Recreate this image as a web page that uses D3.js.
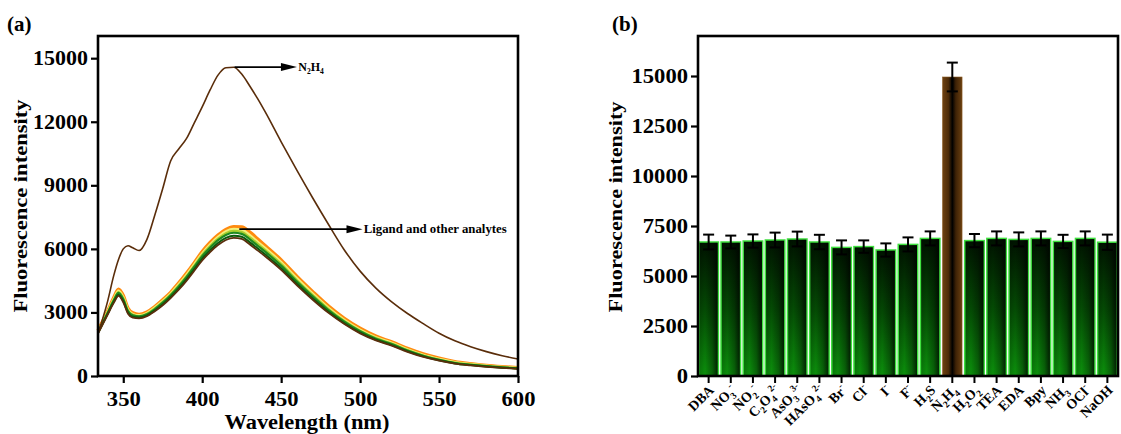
<!DOCTYPE html>
<html>
<head>
<meta charset="utf-8">
<script src="https://cdn.jsdelivr.net/npm/d3@7"></script>
<style>
  html, body { margin: 0; padding: 0; background: #fff; }
  svg { display: block; }
  text { font-family: "Liberation Serif", "Times New Roman", serif; font-weight: bold; fill: #000; }
</style>
</head>
<body>
<svg id="chart" width="1121" height="434"></svg>
<script>
// ---------- Panel (a): emission spectra ----------
const wavelengths = [334,340,344,347,350,353,356,360,365,370,375,380,385,390,395,400,405,410,415,420,425,430,435,440,450,460,470,480,490,500,510,520,530,540,550,560,570,580,590,600];

const n2h4Spectrum = [2000,3500,4750,5500,6000,6150,6050,5920,6450,7600,8850,10150,10700,11200,11950,12700,13500,14200,14550,14570,14250,13700,13100,12450,11050,9700,8400,7150,5950,4950,4150,3500,2950,2470,2020,1660,1380,1150,960,800];

const spectrumOrange = [2150,3050,3700,4100,3800,3200,2980,2900,3020,3280,3600,3950,4380,4850,5350,5870,6300,6650,6920,7050,7030,6800,6480,6150,5480,4700,3980,3300,2720,2250,1880,1610,1300,1040,840,680,580,500,440,390];
const spectrumYellow = [2100,3000,3640,4020,3720,3130,2920,2860,2970,3230,3540,3890,4310,4770,5270,5780,6200,6560,6820,6930,6900,6650,6340,6030,5370,4600,3880,3210,2640,2180,1820,1560,1250,990,800,650,560,485,425,378];
const spectrumLime = [2080,2980,3600,3960,3670,3090,2890,2830,2940,3190,3500,3850,4260,4710,5210,5720,6130,6480,6740,6850,6800,6550,6250,5940,5290,4520,3820,3160,2600,2140,1790,1530,1225,970,780,630,545,472,415,370];
const spectrumGreen = [2060,2960,3570,3920,3620,3060,2860,2810,2910,3160,3460,3810,4210,4660,5160,5660,6060,6410,6660,6760,6710,6460,6160,5860,5210,4460,3760,3110,2560,2110,1760,1505,1205,955,765,615,532,462,406,361];
const spectrumDarkGreen = [2030,2920,3500,3840,3540,2990,2800,2760,2860,3100,3390,3730,4120,4560,5050,5540,5940,6280,6520,6620,6570,6320,6030,5730,5090,4350,3660,3030,2490,2050,1710,1460,1170,925,740,595,515,448,394,350];
const spectrumBrown = [2000,2880,3450,3780,3480,2940,2750,2720,2820,3060,3340,3680,4060,4490,4970,5450,5850,6180,6420,6520,6470,6220,5930,5640,5010,4280,3600,2980,2450,2010,1680,1430,1140,900,720,580,500,435,383,340];

const xTicksA = [350,400,450,500,550,600];
const yTicksA = [0,3000,6000,9000,12000,15000];

// ---------- Panel (b): bar chart ----------
const analytes = ["DBA","NO_3^-","NO_2^-","C_2O_4^2-","AsO_3^3-","HAsO_4^2-","Br^-","Cl^-","I^-","F^-","H_2S","N_2H_4","H_2O_2","TEA","EDA","Bpy","NH_3","OCl^-","NaOH"];
const intensities = [6700,6700,6750,6800,6850,6700,6430,6470,6300,6580,6880,14950,6770,6880,6830,6880,6730,6880,6690];
const errors = [370,320,330,370,370,360,350,310,330,350,350,720,330,350,350,350,330,350,380];
const yTicksB = [0,2500,5000,7500,10000,12500,15000];

const svg = d3.select("#chart");
svg.append("rect").attr("width",1121).attr("height",434).attr("fill","#fff");

const defs = svg.append("defs");

// scales
const xA = d3.scaleLinear().domain([334,600]).range([98,518]);
const yA = d3.scaleLinear().domain([0,16000]).range([376,37]);
const xB = d3.scaleBand().domain(analytes).range([698,1118]).paddingInner(0.12).paddingOuter(0.04);
const yB = d3.scaleLinear().domain([0,17000]).range([376,36]);

function styleTicks(g, digitW) {
  g.select(".domain").remove();
  g.selectAll(".tick line").attr("stroke","#000").attr("stroke-width",2.2);
  g.selectAll(".tick text")
    .attr("font-size",20)
    .attr("fill","#000")
    .attr("font-family","Liberation Serif, Times New Roman, serif")
    .attr("font-weight","bold")
    .attr("lengthAdjust","spacingAndGlyphs")
    .attr("textLength", function(){ return this.textContent.length * digitW; });
}

// ===== Panel (a) =====
const gA = svg.append("g");

const line = d3.line()
  .x((d,i) => xA(wavelengths[i]))
  .y(d => yA(d))
  .curve(d3.curveMonotoneX);

const bundle = [
  {values: spectrumOrange, color: "#ff8a10", w: 3.4},
  {values: spectrumYellow, color: "#f3f07a", w: 2.6},
  {values: spectrumLime, color: "#a9cf2e", w: 2.2},
  {values: spectrumGreen, color: "#1f8a1f", w: 2.2},
  {values: spectrumDarkGreen, color: "#0b5a0b", w: 2.0},
  {values: spectrumBrown, color: "#5a2e0c", w: 1.8}
];
gA.selectAll("path.spec").data(bundle).enter().append("path")
  .attr("class","spec")
  .attr("d", d => line(d.values))
  .attr("fill","none")
  .attr("stroke", d => d.color)
  .attr("stroke-width", d => d.w)
  .attr("stroke-linejoin","round");

gA.append("path")
  .attr("d", line(n2h4Spectrum))
  .attr("fill","none")
  .attr("stroke","#5a2d0a")
  .attr("stroke-width",1.6);

// annotation arrows
function arrow(g, x1, x2, y) {
  g.append("line").attr("x1",x1).attr("x2",x2-12).attr("y1",y).attr("y2",y)
    .attr("stroke","#000").attr("stroke-width",1.6);
  g.append("path")
    .attr("d", `M${x2},${y} L${x2-16},${y-4} L${x2-16},${y+4} Z`)
    .attr("fill","#000");
}
const yN = yA(14580);
arrow(gA, xA(420.5), xA(460), yN);
const tN = gA.append("text").attr("x", xA(460.8)).attr("y", yN+4).attr("font-size",12);
tN.append("tspan").text("N");
tN.append("tspan").attr("font-size",7.5).attr("dy",3).text("2");
tN.append("tspan").attr("dy",-3).text("H");
tN.append("tspan").attr("font-size",7.5).attr("dy",3).text("4");

const yL = yA(6930);
arrow(gA, xA(423.5), xA(501.5), yL);
gA.append("text").attr("x", xA(502.3)).attr("y", yL+4).attr("font-size",12.5)
  .attr("textLength",143).attr("lengthAdjust","spacingAndGlyphs")
  .text("Ligand and other analytes");

// axes
gA.append("g").attr("transform","translate(98,0)")
  .call(d3.axisLeft(yA).tickValues(yTicksA).tickSize(7).tickPadding(3).tickFormat(d3.format("d")))
  .call(g => styleTicks(g, 11));
gA.append("g").attr("transform","translate(0,376)")
  .call(d3.axisBottom(xA).tickValues(xTicksA).tickSize(7).tickPadding(9).tickFormat(d3.format("d")))
  .call(g => styleTicks(g, 11.3));

gA.append("rect").attr("x",98).attr("y",36).attr("width",420).attr("height",340)
  .attr("fill","none").attr("stroke","#000").attr("stroke-width",2.6);

gA.append("text").attr("transform","translate(27,206) rotate(-90)")
  .attr("text-anchor","middle").attr("font-size",19)
  .attr("textLength",213).attr("lengthAdjust","spacingAndGlyphs")
  .text("Fluorescence intensity");
gA.append("text").attr("x",307).attr("y",429)
  .attr("text-anchor","middle").attr("font-size",20)
  .attr("textLength",165).attr("lengthAdjust","spacingAndGlyphs")
  .text("Wavelength (nm)");
gA.append("text").attr("x",7).attr("y",31).attr("font-size",21).text("(a)");

// ===== Panel (b) =====
const gv = defs.append("linearGradient").attr("id","barV").attr("x1",0).attr("y1",0).attr("x2",0).attr("y2",1);
gv.append("stop").attr("offset","0%").attr("stop-color","#001200");
gv.append("stop").attr("offset","50%").attr("stop-color","#044a04");
gv.append("stop").attr("offset","100%").attr("stop-color","#0c900c");
const gh = defs.append("linearGradient").attr("id","barH").attr("x1",0).attr("y1",0).attr("x2",1).attr("y2",0);
gh.append("stop").attr("offset","0%").attr("stop-color","#000").attr("stop-opacity",0.15);
gh.append("stop").attr("offset","30%").attr("stop-color","#000").attr("stop-opacity",0);
gh.append("stop").attr("offset","70%").attr("stop-color","#000").attr("stop-opacity",0.3);
gh.append("stop").attr("offset","100%").attr("stop-color","#000").attr("stop-opacity",0.75);
const gb = defs.append("linearGradient").attr("id","barBrown").attr("x1",0).attr("y1",0).attr("x2",1).attr("y2",0);
gb.append("stop").attr("offset","0%").attr("stop-color","#6e4212");
gb.append("stop").attr("offset","30%").attr("stop-color","#4e2c08");
gb.append("stop").attr("offset","50%").attr("stop-color","#000");
gb.append("stop").attr("offset","68%").attr("stop-color","#3e2206");
gb.append("stop").attr("offset","100%").attr("stop-color","#6a3f10");

const gB = svg.append("g");
const barData = analytes.map((a,i) => ({a, v: intensities[i], e: errors[i]}));
const bw = xB.bandwidth();

const bars = gB.selectAll("g.bar").data(barData).enter().append("g").attr("class","bar");
bars.append("rect")
  .attr("x", d => xB(d.a)).attr("y", d => yB(d.v))
  .attr("width", bw).attr("height", d => yB(0) - yB(d.v))
  .attr("fill", d => d.a === "N_2H_4" ? "url(#barBrown)" : "url(#barV)")
  .attr("stroke", d => d.a === "N_2H_4" ? "#8a5a22" : "#3ee03e")
  .attr("stroke-width", d => d.a === "N_2H_4" ? 0.6 : 1.5);
bars.filter(d => d.a !== "N_2H_4").append("rect")
  .attr("x", d => xB(d.a) + 0.75).attr("y", d => yB(d.v) + 0.75)
  .attr("width", bw - 1.5).attr("height", d => yB(0) - yB(d.v) - 1.5)
  .attr("fill","url(#barH)");

// error bars
const cx = d => xB(d.a) + bw/2;
bars.append("line")
  .attr("x1",cx).attr("x2",cx)
  .attr("y1", d => yB(d.v + d.e)).attr("y2", d => yB(d.v - d.e))
  .attr("stroke","#000").attr("stroke-width",2);
bars.append("line")
  .attr("x1", d => cx(d)-5.5).attr("x2", d => cx(d)+5.5)
  .attr("y1", d => yB(d.v + d.e)).attr("y2", d => yB(d.v + d.e))
  .attr("stroke","#000").attr("stroke-width",2);
bars.append("line")
  .attr("x1", d => cx(d)-5.5).attr("x2", d => cx(d)+5.5)
  .attr("y1", d => yB(d.v - d.e)).attr("y2", d => yB(d.v - d.e))
  .attr("stroke","#000").attr("stroke-width",2);

// y axis
gB.append("g").attr("transform","translate(698,0)")
  .call(d3.axisLeft(yB).tickValues(yTicksB).tickSize(7).tickPadding(3).tickFormat(d3.format("d")))
  .call(g => styleTicks(g, 11.3));

// x ticks
gB.selectAll("line.xt").data(analytes).enter().append("line")
  .attr("class","xt")
  .attr("x1", d => xB(d) + bw/2).attr("x2", d => xB(d) + bw/2)
  .attr("y1",376).attr("y2",383)
  .attr("stroke","#000").attr("stroke-width",2);

// rotated formula labels: "_x" subscript, "^..." superscript
function formulaLabel(sel, s) {
  let i = 0, pendingDy = 0, buf = "";
  const flush = () => { if (buf) { sel.append("tspan").attr("dy", pendingDy).text(buf); pendingDy = 0; buf = ""; } };
  while (i < s.length) {
    const c = s[i];
    if (c === "_") {
      flush();
      sel.append("tspan").attr("dy", 4 + pendingDy).attr("font-size",9.5).text(s[i+1]);
      pendingDy = -4; i += 2;
    } else if (c === "^") {
      flush();
      sel.append("tspan").attr("dy", -6 + pendingDy).attr("font-size",9.5).text(s.slice(i+1));
      pendingDy = 6; i = s.length;
    } else { buf += c; i++; }
  }
  flush();
}
const labelGroups = gB.selectAll("g.xl").data(analytes).enter().append("g")
  .attr("class","xl")
  .attr("transform", d => "translate(" + (xB(d) + bw/2 + 6) + ",391) rotate(-45)");
labelGroups.append("text")
  .attr("font-size",14)
  .attr("text-anchor","end")
  .each(function(d){ formulaLabel(d3.select(this), d); });

gB.append("rect").attr("x",698).attr("y",36).attr("width",420).attr("height",340)
  .attr("fill","none").attr("stroke","#000").attr("stroke-width",2.6);

gB.append("text").attr("transform","translate(622,207) rotate(-90)")
  .attr("text-anchor","middle").attr("font-size",19)
  .attr("textLength",211).attr("lengthAdjust","spacingAndGlyphs")
  .text("Fluorescence intensity");
gB.append("text").attr("x",612).attr("y",31).attr("font-size",21).text("(b)");
</script>
</body>
</html>
